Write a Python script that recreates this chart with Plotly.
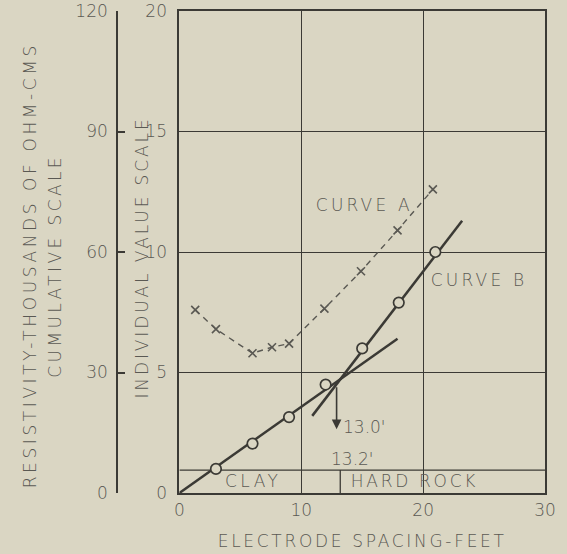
import plotly.graph_objects as go

# ---- data ----
curve_a_x = [1.3, 3, 6, 7.6, 9, 11.9, 14.9, 17.9, 20.8]
curve_a_y = [7.6, 6.8, 5.8, 6.05, 6.2, 7.65, 9.2, 10.9, 12.6]

curve_b_x = [3, 6, 9, 12, 15, 18, 21]
curve_b_y = [1.0, 2.05, 3.15, 4.5, 6.0, 7.9, 10.0]

# two straight-line fits for curve B
fit1_x = [0, 17.9]
fit1_y = [0, 6.4]
fit2_x = [10.9, 23.2]
fit2_y = [3.2, 11.3]

# arrow marking the break
arrow_x = 12.9
arrow_y_from = 4.45
arrow_y_to = 2.65

band_top = 0.95       # clay/hard rock band height
boundary_x = 13.2     # clay / hard rock boundary

x_ticks = [0, 10, 20, 30]
y_ticks = [0, 5, 10, 15, 20]
cum_ticks = [0, 30, 60, 90, 120]

BG = "#dad6c3"
INK = "#3b3a35"
TXT = "#5a5953"
FONT = "DejaVu Sans"

fig = go.Figure()

# clay / hard rock band
fig.add_shape(type="line", x0=0, x1=30, y0=band_top, y1=band_top,
              line=dict(color=INK, width=1.3), layer="below")
fig.add_shape(type="line", x0=boundary_x, x1=boundary_x, y0=0, y1=band_top,
              line=dict(color=INK, width=1.3), layer="below")

# curve A
fig.add_trace(go.Scatter(x=curve_a_x, y=curve_a_y, mode="lines+markers",
                         line=dict(color=TXT, width=1.4, dash="6px,5px"),
                         marker=dict(symbol="x-thin-open", size=8,
                                     line=dict(color=TXT, width=1.6)),
                         showlegend=False, hoverinfo="skip"))

# curve B fits
fig.add_trace(go.Scatter(x=fit1_x, y=fit1_y, mode="lines",
                         line=dict(color=INK, width=2.5),
                         showlegend=False, hoverinfo="skip"))
fig.add_trace(go.Scatter(x=fit2_x, y=fit2_y, mode="lines",
                         line=dict(color=INK, width=2.5),
                         showlegend=False, hoverinfo="skip"))
# curve B points
fig.add_trace(go.Scatter(x=curve_b_x, y=curve_b_y, mode="markers",
                         marker=dict(symbol="circle", size=10.5, color=BG,
                                     line=dict(color=INK, width=1.7)),
                         showlegend=False, hoverinfo="skip"))

# invisible trace on the cumulative axis so it renders
fig.add_trace(go.Scatter(x=[None], y=[None], yaxis="y2", showlegend=False,
                         hoverinfo="skip"))

tf = dict(family=FONT, size=17, color=TXT, weight=300)

# arrow
fig.add_annotation(x=arrow_x, y=arrow_y_to, ax=arrow_x, ay=arrow_y_from,
                   xref="x", yref="y", axref="x", ayref="y",
                   showarrow=True, arrowhead=2, arrowsize=1.2, arrowwidth=1.6,
                   arrowcolor=INK, text="")

fig.add_annotation(x=13.3, y=2.72, text="13.0'", showarrow=False,
                   xanchor="left", align="left", yanchor="middle", font=tf)
fig.add_annotation(x=12.25, y=1.42, text="13.2'", showarrow=False,
                   xanchor="left", align="left", yanchor="middle", font=tf)
fig.add_annotation(x=6.0, y=0.48, text="CLAY", showarrow=False,
                   xanchor="center", yanchor="middle", font=tf)
fig.add_annotation(x=19.3, y=0.48, text="HARD ROCK", showarrow=False,
                   xanchor="center", yanchor="middle", font=tf)
fig.add_annotation(x=15.2, y=11.95, text="CURVE A", showarrow=False,
                   xanchor="center", yanchor="middle", font=tf)
fig.add_annotation(x=24.6, y=8.85, text="CURVE B", showarrow=False,
                   xanchor="center", yanchor="middle", font=tf)

# axis titles
fig.add_annotation(xref="paper", yref="paper", x=25 / 545, y=(493 - 265) / 482,
                   text="RESISTIVITY-THOUSANDS OF OHM-CMS", textangle=-90,
                   showarrow=False, xanchor="center", yanchor="middle", font=tf)
fig.add_annotation(xref="paper", yref="paper", x=50 / 545, y=(493 - 266) / 482,
                   text="CUMULATIVE SCALE", textangle=-90,
                   showarrow=False, xanchor="center", yanchor="middle", font=tf)
fig.add_annotation(xref="paper", yref="paper", x=138 / 545, y=(493 - 258) / 482,
                   text="INDIVIDUAL VALUE SCALE", textangle=-90,
                   showarrow=False, xanchor="center", yanchor="middle", font=tf)

fig.update_layout(
    width=567, height=554,
    margin=dict(l=0, r=22, t=11, b=61),
    paper_bgcolor=BG, plot_bgcolor=BG,
    font=tf,
    xaxis=dict(domain=[176 / 545, 1], range=[0, 30], tickvals=x_ticks,
               showgrid=True, gridcolor=INK, gridwidth=1.1,
               showline=True, linecolor=INK, linewidth=2, mirror=True,
               ticks="", zeroline=False, tickfont=tf, ticklabelstandoff=1,
               title=dict(text="ELECTRODE SPACING-FEET", font=tf, standoff=16)),
    yaxis=dict(range=[0, 20], tickvals=y_ticks,
               showgrid=True, gridcolor=INK, gridwidth=1.1,
               showline=True, linecolor=INK, linewidth=2, mirror=True,
               ticks="", zeroline=False, tickfont=tf, ticklabelstandoff=7),
    yaxis2=dict(range=[0, 120], tickvals=cum_ticks, overlaying="y",
                anchor="free", position=113 / 545, side="left",
                showgrid=False, showline=True, linecolor=INK, linewidth=1.5,
                ticks="inside", ticklen=7, tickcolor=INK, tickwidth=1.5,
                zeroline=False, tickfont=tf, ticklabelstandoff=5),
)

post = """
var gd = document.getElementById('{plot_id}');
var spacing = {
  'RESISTIVITY-THOUSANDS OF OHM-CMS': '3.6px',
  'CUMULATIVE SCALE': '3.4px',
  'INDIVIDUAL VALUE SCALE': '2.9px',
  'ELECTRODE SPACING-FEET': '2.7px',
  'CLAY': '3.5px',
  'HARD ROCK': '2.7px',
  'CURVE A': '3.2px',
  'CURVE B': '3.2px'
};
gd.querySelectorAll('.annotation-text, .xtitle').forEach(function(t){
  var s = spacing[t.textContent];
  if (s) { t.style.letterSpacing = s; }
});
"""

fig.write_html("out.html", post_script=post)
